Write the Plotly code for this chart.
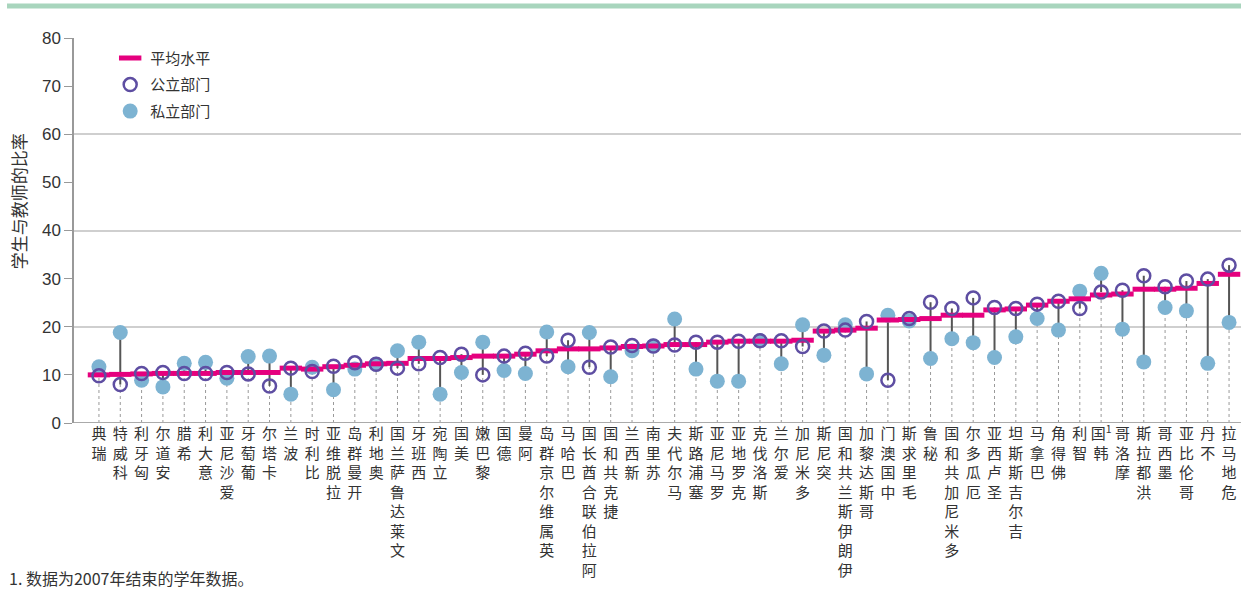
import plotly.graph_objects as go

countries = ["瑞典", "科威特", "匈牙利", "安道尔", "希腊", "意大利", "爱沙尼亚", "葡萄牙", "卡塔尔", "波兰",
             "比利时", "拉脱维亚", "开曼群岛", "奥地利", "文莱达鲁萨兰国", "西班牙", "立陶宛", "美国", "黎巴嫩", "德国",
             "阿曼", "英属维尔京群岛", "巴哈马", "阿拉伯联合酋长国", "捷克共和国", "新西兰", "苏里南", "马尔代夫", "塞浦路斯", "罗马尼亚",
             "克罗地亚", "斯洛伐克", "爱尔兰", "多米尼加", "突尼斯", "伊朗伊斯兰共和国", "哥斯达黎加", "中国澳门", "毛里求斯", "秘鲁",
             "多米尼加共和国", "厄瓜多尔", "圣卢西亚", "吉尔吉斯斯坦", "巴拿马", "佛得角", "智利", "韩国¹", "摩洛哥", "洪都拉斯",
             "墨西哥", "哥伦比亚", "不丹", "危地马拉"]

average = [10.0, 10.1, 10.2, 10.3, 10.3, 10.3, 10.5, 10.5, 10.5, 11.4,
           11.2, 11.7, 12.0, 12.3, 12.4, 13.4, 13.4, 13.6, 13.9, 13.9,
           14.3, 15.0, 15.4, 15.4, 15.6, 15.9, 16.0, 16.3, 16.3, 16.8,
           17.0, 17.0, 17.0, 17.2, 19.1, 19.3, 19.7, 21.4, 21.5, 21.7,
           22.4, 22.4, 23.5, 23.7, 24.5, 25.3, 25.8, 26.6, 26.8, 27.8,
           27.8, 28.0, 29.0, 30.9]

public = [9.8, 8.0, 10.3, 10.5, 10.3, 10.3, 10.5, 10.2, 7.7, 11.4,
          10.7, 11.8, 12.5, 12.2, 11.4, 12.3, 13.6, 14.3, 10.0, 13.9,
          14.5, 13.9, 17.2, 11.6, 15.8, 16.1, 16.0, 16.2, 16.8, 16.8,
          17.0, 17.1, 17.1, 15.9, 19.1, 19.3, 21.1, 8.9, 21.7, 25.1,
          23.8, 26.0, 24.0, 23.8, 24.7, 25.3, 23.8, 27.2, 27.6, 30.6,
          28.3, 29.5, 29.9, 32.8]

private = [11.7, 18.8, 8.9, 7.5, 12.4, 12.6, 9.3, 13.8, 13.9, 6.0,
           11.6, 6.9, 11.2, 12.2, 15.0, 16.8, 6.0, 10.5, 16.8, 10.9,
           10.3, 18.9, 11.7, 18.8, 9.6, 15.0, 16.0, 21.6, 11.2, 8.7,
           8.7, 17.1, 12.3, 20.4, 14.1, 20.4, 10.2, 22.4, 21.2, 13.4,
           17.5, 16.7, 13.6, 17.9, 21.7, 19.3, 27.4, 31.1, 19.5, 12.7,
           24.0, 23.3, 12.4, 20.9]

y_ticks = [0, 10, 20, 30, 40, 50, 60, 70, 80]
y_title = "学生与教师的比率"
footnote = "1. 数据为2007年结束的学年数据。"

CJK = "Noto Sans CJK SC"
MAGENTA = "#e5007e"
PURPLE = "#5e4ea2"
BLUE = "#7db3d2"

idx = list(range(len(countries)))


def vertical_label(name):
    sup = ""
    if name.endswith("¹"):
        name = name[:-1]
        sup = "<sup>1</sup>"
    chars = list(reversed(name))
    chars[0] = chars[0] + sup
    return "<br>".join(chars)


ticktext = [vertical_label(c) for c in countries]

drop_x, drop_y = [], []
link_x, link_y = [], []
for i, (pu, pr) in enumerate(zip(public, private)):
    drop_x += [i, i, None]
    drop_y += [0, min(pu, pr), None]
    link_x += [i, i, None]
    link_y += [pu, pr, None]

fig = go.Figure()
fig.add_trace(go.Scatter(x=drop_x, y=drop_y, mode="lines", showlegend=False, hoverinfo="skip",
                         line=dict(color="#9a9a9a", width=1, dash="dot")))
fig.add_trace(go.Scatter(x=link_x, y=link_y, mode="lines", showlegend=False, hoverinfo="skip",
                         line=dict(color="#555555", width=2)))
fig.add_trace(go.Scatter(x=idx, y=private, mode="markers", name="私立部门", legendrank=3,
                         legendgroup="c",
                         marker=dict(symbol="circle", size=15, color=BLUE, line=dict(width=0))))
fig.add_trace(go.Scatter(x=idx, y=average, mode="markers", name="平均水平", legendrank=1,
                         legendgroup="a",
                         marker=dict(symbol="line-ew", size=16, color=MAGENTA,
                                     line=dict(color=MAGENTA, width=5))))
fig.add_trace(go.Scatter(x=idx, y=public, mode="markers", name="公立部门", legendrank=2,
                         legendgroup="b",
                         marker=dict(symbol="circle-open", size=13, color=PURPLE,
                                     line=dict(color=PURPLE, width=2.5))))

fig.update_layout(
    width=1241, height=590,
    margin=dict(l=74, r=0, t=38, b=167, autoexpand=False),
    paper_bgcolor="white", plot_bgcolor="white",
    font=dict(family=CJK, color="#333333"),
    showlegend=True,
    legend=dict(x=0.031, y=0.99, xanchor="left", yanchor="top",
                bgcolor="rgba(0,0,0,0)", font=dict(family=CJK, size=15, color="#333333"),
                tracegroupgap=4, itemsizing="trace"),
    xaxis=dict(
        range=[-1.17, 53.56], automargin=False,
        tickmode="array", tickvals=idx, ticktext=ticktext,
        tickangle=0, showgrid=False, zeroline=False,
        showline=False, ticks="",
        tickfont=dict(family=CJK, size=15, color="#333333"),
        fixedrange=True,
    ),
    yaxis=dict(
        range=[0, 80], automargin=False,
        tickmode="array", tickvals=y_ticks,
        ticks="outside", ticklen=8, tickcolor="#999999", tickwidth=1,
        showline=True, linecolor="#999999", linewidth=1.5,
        showgrid=False, zeroline=False,
        tickfont=dict(family="Liberation Sans Narrow, Liberation Sans, Arial", size=17, color="#333333"),
        minor=dict(tickmode="array", tickvals=[20, 40, 60, 80], showgrid=True,
                   gridcolor="#cfcfcf", gridwidth=1.5, ticks=""),
        fixedrange=True,
    ),
    shapes=[
        dict(type="line", xref="paper", yref="paper", x0=-0.0574, x1=1.0, y0=1.083, y1=1.083,
             line=dict(color="#a8d5bd", width=5)),
        dict(type="line", xref="paper", yref="y", x0=0, x1=1, y0=0, y1=0,
             line=dict(color="#aaaaaa", width=2)),
    ],
    annotations=[
        dict(text=y_title, xref="paper", yref="paper", x=-0.048, y=0.576, textangle=-90,
             xanchor="center", yanchor="middle", showarrow=False,
             font=dict(family=CJK, size=17, color="#333333")),
        dict(text=footnote, xref="paper", yref="paper", x=-0.057, y=-0.402,
             xanchor="left", yanchor="middle", showarrow=False,
             font=dict(family=CJK, size=16, color="#333333")),
    ],
)

fig.write_html("out.html", config={"displayModeBar": False},
               post_script="document.body.style.margin='0';document.body.style.overflow='hidden';")
